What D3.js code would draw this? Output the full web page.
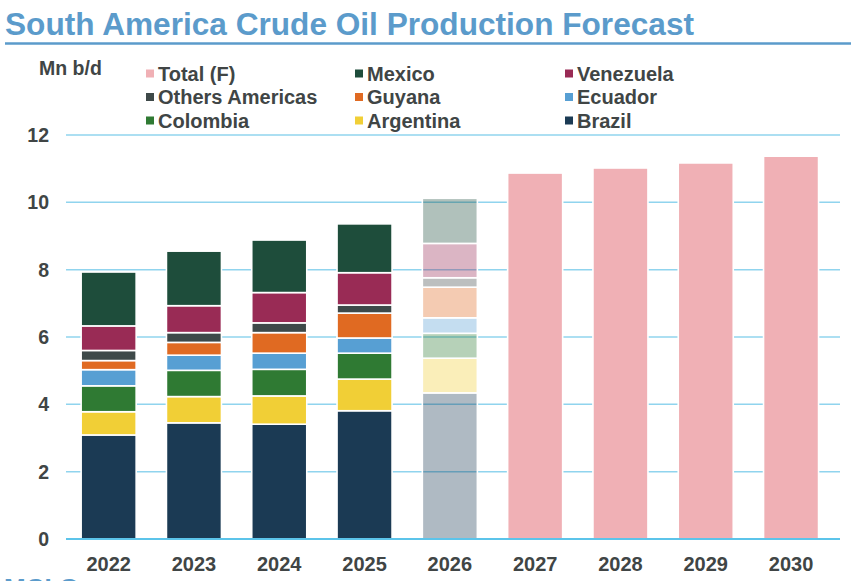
<!DOCTYPE html>
<html><head><meta charset="utf-8">
<script src="https://cdn.jsdelivr.net/npm/d3@7"></script>
<style>
html,body{margin:0;padding:0;background:#fff;overflow:hidden}
text{font-family:"Liberation Sans",Arial,sans-serif}
</style></head>
<body><svg id="c" width="855" height="581"></svg>
<script>
const years = ["2022","2023","2024","2025","2026","2027","2028","2029","2030"];
const seriesNames = ["Brazil","Argentina","Colombia","Ecuador","Guyana","Others Americas","Venezuela","Mexico"];
const brazil     = [3.09, 3.45, 3.41, 3.81, 4.34, 0, 0, 0, 0];
const argentina  = [0.69, 0.78, 0.84, 0.94, 1.03, 0, 0, 0, 0];
const colombia   = [0.77, 0.78, 0.79, 0.77, 0.74, 0, 0, 0, 0];
const ecuador    = [0.48, 0.45, 0.48, 0.45, 0.46, 0, 0, 0, 0];
const guyana     = [0.27, 0.38, 0.61, 0.74, 0.91, 0, 0, 0, 0];
const others     = [0.30, 0.29, 0.29, 0.24, 0.28, 0, 0, 0, 0];
const venezuela  = [0.73, 0.80, 0.90, 0.96, 1.02, 0, 0, 0, 0];
const mexico     = [1.60, 1.62, 1.56, 1.45, 1.34, 0, 0, 0, 0];
const totalF     = [0, 0, 0, 0, 0, 10.87, 11.02, 11.17, 11.37];
const forecastFaded = ["2026"];
const yTicks = [0, 2, 4, 6, 8, 10, 12];
const legendItems = ["Total (F)","Mexico","Venezuela","Others Americas","Guyana","Ecuador","Colombia","Argentina","Brazil"];
const colors = {
  "Brazil":"#1b3a54","Argentina":"#f1cf36","Colombia":"#2f7a33","Ecuador":"#579fd3",
  "Guyana":"#e06a22","Others Americas":"#3e4949","Venezuela":"#992b55","Mexico":"#1e4d3b",
  "Total (F)":"#f0b0b5"
};

const seriesValues = [brazil, argentina, colombia, ecuador, guyana, others, venezuela, mexico];
const rows = years.map((y,i)=>{
  const r = {year:y};
  seriesNames.forEach((s,k)=> r[s]=seriesValues[k][i]);
  r["Total (F)"] = totalF[i];
  return r;
});
const keys = seriesNames.concat(["Total (F)"]);

const svg = d3.select("#c");
const x = d3.scaleBand().domain(years).range([66, 833.7]).paddingInner(0.355).paddingOuter(0.1775);
const y = d3.scaleLinear().domain([0,12]).range([539,135]);

// title
svg.append("text").attr("x",5).attr("y",35).attr("fill","#5b9bcb")
  .attr("font-size",31).attr("font-weight","bold")
  .attr("textLength",689).attr("lengthAdjust","spacingAndGlyphs")
  .text("South America Crude Oil Production Forecast");
svg.append("line").attr("x1",5).attr("x2",851).attr("y1",43.5).attr("y2",43.5)
  .attr("stroke","#5b9bcb").attr("stroke-width",2.5);

// gridlines
svg.append("g").selectAll("line").data(yTicks.filter(d=>d>0)).join("line")
  .attr("x1",66).attr("x2",840).attr("y1",d=>y(d)).attr("y2",d=>y(d))
  .attr("stroke","#90d4ee").attr("stroke-width",1.5);

// y tick labels
svg.append("g").selectAll("text").data(yTicks).join("text")
  .attr("x",49).attr("y",d=>y(d)).attr("dy","0.36em").attr("text-anchor","end")
  .attr("font-size",19.5).attr("font-weight","bold").attr("fill","#404545")
  .text(d=>d);

// bars
const stack = d3.stack().keys(keys)(rows);
const g = svg.append("g");
stack.forEach(layer=>{
  g.append("g").selectAll("rect").data(layer.filter(d=>d[1]-d[0]>0)).join("rect")
    .attr("x",d=>x(d.data.year)).attr("width",x.bandwidth())
    .attr("y",d=>y(d[1])).attr("height",d=>y(d[0])-y(d[1]))
    .attr("fill",colors[layer.key])
    .attr("fill-opacity",d=>forecastFaded.includes(d.data.year)?0.35:1)
    .attr("stroke","#fff").attr("stroke-width",1.6);
});

// baseline
svg.append("line").attr("x1",66).attr("x2",840).attr("y1",y(0)).attr("y2",y(0))
  .attr("stroke","#5cc4ea").attr("stroke-width",2.2);

// x labels
svg.append("g").selectAll("text").data(years).join("text")
  .attr("x",d=>x(d)+x.bandwidth()/2).attr("y",571).attr("text-anchor","middle")
  .attr("font-size",20).attr("font-weight","bold").attr("fill","#404545")
  .text(d=>d);

// unit label
svg.append("text").attr("x",39).attr("y",75).attr("font-size",19.5).attr("font-weight","bold")
  .attr("fill","#404545").text("Mn b/d");

// legend
const colX = [146, 355, 565];
const rowY = [73.5, 97, 120.5];
const lg = svg.append("g").selectAll("g").data(legendItems).join("g")
  .attr("transform",(d,i)=>`translate(${colX[i%3]},${rowY[Math.floor(i/3)]})`);
lg.append("rect").attr("x",0).attr("y",-4).attr("width",8).attr("height",8).attr("fill",d=>colors[d]);
lg.append("text").attr("x",12).attr("y",0).attr("dy","0.36em").attr("font-size",20)
  .attr("font-weight","bold").attr("fill","#404545").text(d=>d);

// footer (cut off at the bottom edge, as in the reference)
svg.append("text").attr("x",4).attr("y",597).attr("font-size",26).attr("font-weight","bold")
  .attr("fill","#5b9bcb").text("MCI Group");
</script></body></html>
